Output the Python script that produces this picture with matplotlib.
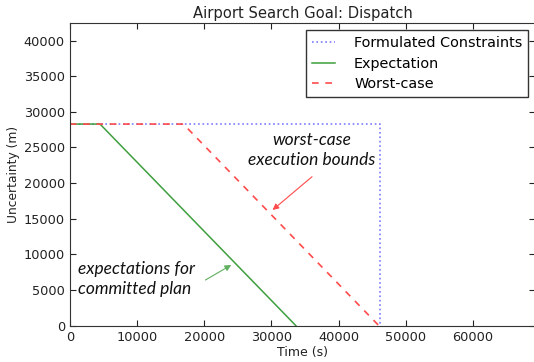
import matplotlib
matplotlib.use("Agg")
import matplotlib.pyplot as plt

# uncertainty bound over time (m vs s)
constraint_t = [0, 46200, 46200]
constraint_u = [28284, 28284, 0]
expect_t = [0, 4500, 33650]
expect_u = [28284, 28284, 0]
worst_t = [0, 16900, 46000]
worst_u = [28284, 28284, 0]

x_ticks = [0, 10000, 20000, 30000, 40000, 50000, 60000]
y_ticks = [0, 5000, 10000, 15000, 20000, 25000, 30000, 35000, 40000]

plt.rcParams.update({
    "font.family": "DejaVu Sans",
    "xtick.direction": "in",
    "ytick.direction": "in",
    "xtick.top": True,
    "ytick.right": True,
})

fig = plt.figure(figsize=(5.34, 3.62), dpi=100)
ax = fig.add_axes([0.1307, 0.1003, 0.872, 0.8354])

ax.plot(constraint_t, constraint_u, color="#7b7bff", ls=":", lw=1.2,
        label="Formulated Constraints")
ax.plot(expect_t, expect_u, color="#3f9f3f", ls="-", lw=1.1, label="Expectation")
ax.plot(worst_t, worst_u, color="#ff4b4b", ls="--", lw=1.2, dashes=(4, 4),
        label="Worst-case")

ax.set_xlim(0, 1.5 * max(constraint_t))
ax.set_ylim(0, 1.5 * max(constraint_u))
ax.set_xticks(x_ticks)
ax.set_yticks(y_ticks)
ax.tick_params(labelsize=9.3, length=4, colors="#222222")
ax.set_xlabel("Time (s)", fontsize=9, color="#222222", labelpad=2)
ax.set_ylabel("Uncertainty (m)", fontsize=8.8, color="#222222", labelpad=3)
ax.set_title("Airport Search Goal: Dispatch", fontsize=10.6, color="#222222", pad=4)
for s in ax.spines.values():
    s.set_color("#333333")

leg = ax.legend(loc="upper right", fontsize=10.4, handlelength=1.6, fancybox=False,
                borderaxespad=0.5, labelspacing=0.45, handletextpad=1.3,
                framealpha=1)
leg.get_frame().set_edgecolor("#333333")

note = dict(family="Lato", style="italic", fontsize=12.5, color="#111111")
ax.text(35950, 24640, "worst-case\nexecution bounds", ha="center", va="center",
        linespacing=1.3, **note)
ax.annotate("", xy=(30180, 16230), xytext=(36050, 20900),
            arrowprops=dict(arrowstyle="-|>", color="#ff4b4b", lw=0.8,
                            mutation_scale=9, shrinkA=0, shrinkB=0))
ax.text(1220, 6550, "expectations for\ncommitted plan", ha="left", va="center",
        linespacing=1.3, **note)
ax.annotate("", xy=(24020, 8510), xytext=(20190, 6410),
            arrowprops=dict(arrowstyle="-|>", color="#5fb05f", lw=0.8,
                            mutation_scale=9, shrinkA=0, shrinkB=0))

fig.savefig("out.png", dpi=100)
